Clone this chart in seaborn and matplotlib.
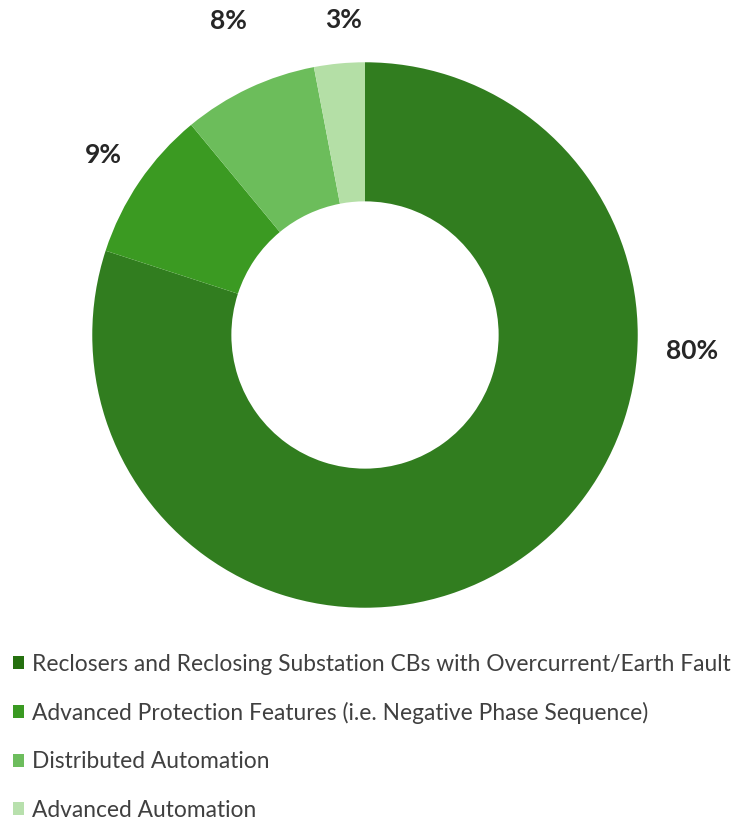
import matplotlib
matplotlib.use("Agg")
import matplotlib.pyplot as plt
import seaborn as sns
from matplotlib.patches import Patch

categories = [
    "Reclosers and Reclosing Substation CBs with Overcurrent/Earth Fault",
    "Advanced Protection Features (i.e. Negative Phase Sequence)",
    "Distributed Automation",
    "Advanced Automation",
]
values = [80, 9, 8, 3]
value_labels = ["80%", "9%", "8%", "3%"]

sns.set_theme(style="white")
plt.rcParams['font.family'] = ['Lato', 'DejaVu Sans']

wedge_colors = ["#317d1f", "#3b9a22", "#6cbd5b", "#b4dfa6"]
legend_colors = ["#25700f", "#3a9a22", "#6dbd5d", "#b8e0ad"]

fig = plt.figure(figsize=(7.31, 8.21), dpi=100)
W, H = 731, 821
cx, cy = 365, 335
half = 300
ax = fig.add_axes([(cx - half) / W, (H - cy - half) / H, 2 * half / W, 2 * half / H])

wedges, _ = ax.pie(values, colors=wedge_colors, startangle=90, counterclock=False,
                   radius=1.0, wedgeprops=dict(width=0.51, edgecolor="none"))
ax.set_xlim(-1.1, 1.1)
ax.set_ylim(-1.1, 1.1)
ax.set_aspect("equal")
ax.axis("off")

label_pos = [(1.20, -0.06), (-0.96, 0.66), (-0.50, 1.15), (-0.077, 1.155)]
for (x, y), t in zip(label_pos, value_labels):
    ax.text(x, y, t, ha="center", va="center", fontsize=19, fontweight="bold",
            color="#262626")

handles = [Patch(facecolor=c, edgecolor="none") for c in legend_colors]
leg = fig.legend(handles, categories, loc="upper left", bbox_to_anchor=(0.005, 0.215),
                 frameon=False, fontsize=16.4, labelcolor="#404040",
                 handlelength=0.5, handleheight=0.5, handletextpad=0.35,
                 labelspacing=1.2, borderaxespad=0)

fig.savefig("out.png", dpi=100)
